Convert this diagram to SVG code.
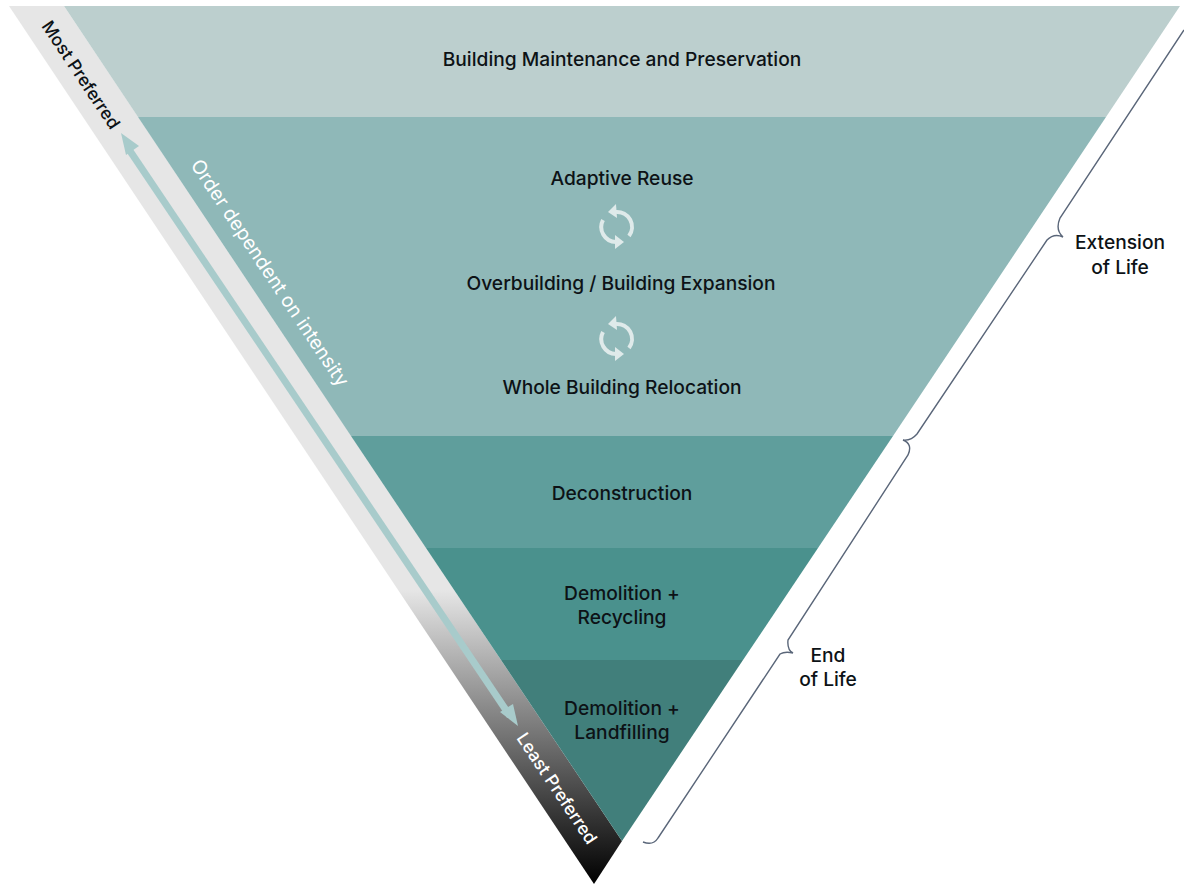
<svg xmlns="http://www.w3.org/2000/svg" width="1184" height="884" viewBox="0 0 1184 884">
<style>
.t{font-family:"Inter","Liberation Sans",sans-serif;font-size:19.2px;font-weight:500;fill:#0d1216;text-anchor:middle}
.s{font-family:"Inter","Liberation Sans",sans-serif;font-size:17.5px;font-weight:500}
.b{fill:none;stroke:#5a6679;stroke-width:1.4}
.c{fill:none;stroke:#dfeaea;stroke-width:4}
.h{fill:#dfeaea}
</style>
<defs>
<linearGradient id="g" gradientUnits="userSpaceOnUse" x1="0" y1="590" x2="0" y2="884"><stop offset="0" stop-color="#e6e6e6"/><stop offset="1" stop-color="#000"/></linearGradient>
<g id="cyc"><path class="c" d="M0 -15A15 15 0 0 1 13 9"/><path class="h" d="M0 -23L-8 -15L1 -9Z"/><path class="c" d="M0 15A15 15 0 0 1 -13 -7"/><path class="h" d="M-1 8L8 15L-1 22Z"/></g>
</defs>
<rect width="1184" height="884" fill="#fff"/>
<g id="band"><path d="M9 6H64L622 841L594 884Z" fill="url(#g)"/></g>
<g id="layer1"><path d="M64 6H1180L1106 117H138Z" fill="#bccfce"/><text class="t" x="622" y="66">Building Maintenance and Preservation</text></g>
<g id="layer2"><path d="M138 117H1106L893 436H351Z" fill="#8fb8b8"/>
<text class="t" x="622" y="185">Adaptive Reuse</text>
<use href="#cyc" x="616" y="227"/>
<text class="t" x="621" y="290">Overbuilding / Building Expansion</text>
<use href="#cyc" x="616" y="339"/>
<text class="t" x="622" y="394">Whole Building Relocation</text></g>
<g id="layer3"><path d="M351 436H893L818 548H426Z" fill="#5f9e9c"/><text class="t" x="622" y="500">Deconstruction</text></g>
<g id="layer4"><path d="M426 548H818L743 660H501Z" fill="#4a918d"/><text class="t" x="622" y="600">Demolition +</text><text class="t" x="622" y="624">Recycling</text></g>
<g id="layer5"><path d="M501 660H743L622 841Z" fill="#417f7b"/><text class="t" x="622" y="715">Demolition +</text><text class="t" x="622" y="739">Landfilling</text></g>
<g id="labels">
<text class="s" fill="#0d1216" transform="translate(41 26) rotate(56.3)">Most Preferred</text>
<text class="s" fill="#fff" transform="translate(190 165) rotate(56.3)" style="font-size:19.4px;font-weight:400">Order dependent on intensity</text>
<text class="s" fill="#fff" transform="translate(516 738) rotate(56.3)">Least Preferred</text>
</g>
<g id="connectors">
<path d="M128 148L510 716" stroke="#a8cbcb" stroke-width="7" fill="none"/>
<path d="M121 133L139 146L126 155Z" fill="#a8cbcb"/>
<path d="M518 726L500 712L513 704Z" fill="#a8cbcb"/>
<path class="b" d="M1184 30L1060 218Q1055 230 1063 237Q1054 233 1047 240L917 434Q911 441 903 440Q913 444 908 455L788 640Q787 650 793 653Q785 651 780 654L658 838Q653 846 643 842"/>
</g>
<g id="brace-labels">
<text class="t" x="1120" y="249">Extension</text><text class="t" x="1120" y="274">of Life</text>
<text class="t" x="828" y="662">End</text><text class="t" x="828" y="686">of Life</text>
</g>
</svg>
